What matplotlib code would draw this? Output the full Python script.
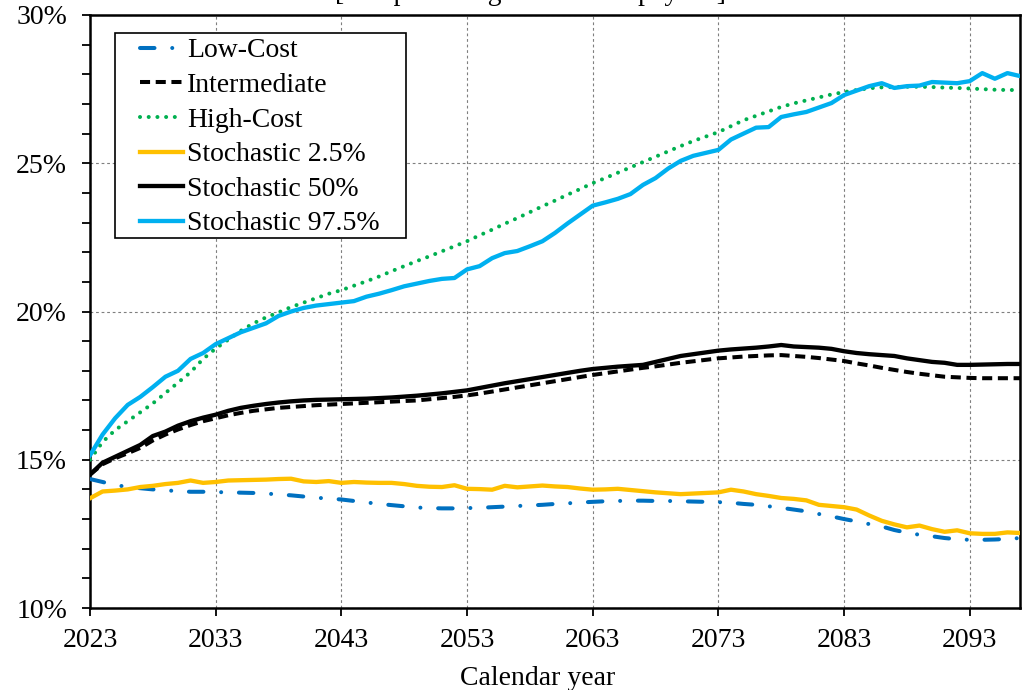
import numpy as np
import matplotlib
matplotlib.use("Agg")
import matplotlib.pyplot as plt
from matplotlib.patches import Rectangle
from matplotlib.ticker import MultipleLocator, FuncFormatter

# --------------------------------------------------------------------------- #
#  Data (percent of taxable payroll), calendar years 2023-2097
# --------------------------------------------------------------------------- #
years = np.arange(2023, 2098)

low_cost = [
    14.35, 14.25, 14.15, 14.08, 14.04, 14.00, 13.97, 13.94, 13.92, 13.92,
    13.91, 13.90, 13.89, 13.88, 13.86, 13.83, 13.80, 13.76, 13.72, 13.69,
    13.66, 13.61, 13.56, 13.51, 13.47, 13.43, 13.39, 13.37, 13.36, 13.36,
    13.37, 13.38, 13.40, 13.42, 13.44, 13.46, 13.48, 13.51, 13.53, 13.56,
    13.58, 13.60, 13.61, 13.62, 13.62, 13.61, 13.61, 13.60, 13.59, 13.58,
    13.57, 13.55, 13.51, 13.48, 13.43, 13.38, 13.32, 13.26, 13.17, 13.09,
    13.00, 12.92, 12.83, 12.75, 12.63, 12.54, 12.47, 12.42, 12.36, 12.32,
    12.30, 12.30, 12.31, 12.33, 12.36,
]

intermediate = [
    14.50, 14.85, 15.05, 15.22, 15.40, 15.65, 15.85, 16.02, 16.17, 16.30,
    16.40, 16.50, 16.58, 16.65, 16.70, 16.75, 16.78, 16.81, 16.84, 16.86,
    16.88, 16.90, 16.92, 16.94, 16.96, 16.98, 17.00, 17.04, 17.08, 17.12,
    17.17, 17.23, 17.30, 17.37, 17.44, 17.51, 17.58, 17.65, 17.72, 17.79,
    17.86, 17.92, 17.98, 18.04, 18.10, 18.15, 18.21, 18.27, 18.32, 18.37,
    18.42, 18.45, 18.48, 18.50, 18.52, 18.53, 18.50, 18.47, 18.43, 18.38,
    18.33, 18.25, 18.18, 18.10, 18.03, 17.96, 17.90, 17.85, 17.80, 17.78,
    17.76, 17.75, 17.75, 17.75, 17.75,
]

high_cost = [
    15.00, 15.60, 16.00, 16.30, 16.60, 16.90, 17.25, 17.60, 17.95, 18.40,
    18.75, 19.05, 19.35, 19.60, 19.80, 19.97, 20.15, 20.30, 20.45, 20.60,
    20.72, 20.87, 21.02, 21.18, 21.36, 21.53, 21.70, 21.86, 22.03, 22.20,
    22.37, 22.57, 22.76, 22.96, 23.15, 23.35, 23.55, 23.74, 23.94, 24.13,
    24.33, 24.50, 24.68, 24.86, 25.04, 25.22, 25.40, 25.58, 25.75, 25.90,
    26.05, 26.25, 26.45, 26.60, 26.75, 26.90, 27.02, 27.12, 27.22, 27.32,
    27.40, 27.47, 27.53, 27.56, 27.57, 27.58, 27.58, 27.57, 27.55, 27.54,
    27.52, 27.50, 27.48, 27.47, 27.47,
]

stoch_025 = [
    13.70, 13.93, 13.96, 14.00, 14.08, 14.12, 14.18, 14.22, 14.30, 14.22,
    14.25, 14.30, 14.31, 14.32, 14.33, 14.35, 14.36, 14.27, 14.25, 14.28,
    14.22, 14.25, 14.23, 14.22, 14.22, 14.18, 14.12, 14.09, 14.08, 14.14,
    14.02, 14.01, 13.99, 14.12, 14.07, 14.10, 14.13, 14.10, 14.08, 14.03,
    13.99, 14.00, 14.02, 13.98, 13.94, 13.90, 13.87, 13.84, 13.86, 13.88,
    13.90, 13.99, 13.93, 13.84, 13.78, 13.71, 13.68, 13.63, 13.48, 13.44,
    13.40, 13.32, 13.12, 12.94, 12.82, 12.72, 12.78, 12.66, 12.57, 12.62,
    12.52, 12.50, 12.50, 12.55, 12.53,
]

stoch_50 = [
    14.50, 14.90, 15.10, 15.30, 15.50, 15.80, 15.95, 16.15, 16.30, 16.42,
    16.52, 16.65, 16.75, 16.82, 16.88, 16.93, 16.97, 17.00, 17.02, 17.03,
    17.04, 17.05, 17.06, 17.08, 17.10, 17.13, 17.16, 17.20, 17.24, 17.29,
    17.34, 17.42, 17.50, 17.58, 17.65, 17.72, 17.79, 17.86, 17.93, 18.00,
    18.06, 18.10, 18.14, 18.17, 18.20, 18.30, 18.40, 18.50, 18.56, 18.62,
    18.68, 18.72, 18.75, 18.78, 18.82, 18.87, 18.82, 18.80, 18.78, 18.74,
    18.66, 18.60, 18.56, 18.53, 18.50, 18.42, 18.36, 18.30, 18.27, 18.20,
    18.20, 18.21, 18.22, 18.23, 18.23,
]

stoch_975 = [
    15.15, 15.85, 16.40, 16.85, 17.12, 17.45, 17.80, 18.00, 18.40, 18.60,
    18.90, 19.10, 19.30, 19.45, 19.60, 19.85, 20.00, 20.12, 20.20, 20.25,
    20.30, 20.35, 20.50, 20.60, 20.72, 20.85, 20.94, 21.03, 21.10, 21.13,
    21.42, 21.53, 21.80, 21.97, 22.04, 22.20, 22.37, 22.65, 22.97, 23.27,
    23.57, 23.68, 23.80, 23.96, 24.27, 24.50, 24.82, 25.08, 25.25, 25.35,
    25.45, 25.80, 26.00, 26.20, 26.22, 26.56, 26.65, 26.73, 26.88, 27.03,
    27.30, 27.45, 27.60, 27.70, 27.54, 27.60, 27.62, 27.74, 27.72, 27.70,
    27.77, 28.04, 27.85, 28.04, 27.94,
]

x_ticks = np.arange(2023, 2094, 10)

# --------------------------------------------------------------------------- #
#  Figure
# --------------------------------------------------------------------------- #
plt.rcParams["font.family"] = ["Liberation Serif", "DejaVu Serif"]
FS = 20
W, H = 1025, 690
AX_L, AX_R, AX_T, AX_B = 90, 1020, 15, 608       # axes box in pixels


def ax_frac(px, py):
    """pixel (from top-left) -> axes fraction"""
    return (px - AX_L) / (AX_R - AX_L), (AX_B - py) / (AX_B - AX_T)


fig = plt.figure(figsize=(W / 100, H / 100), dpi=100)
ax = fig.add_axes([AX_L / W, 1 - AX_B / H, (AX_R - AX_L) / W, (AX_B - AX_T) / H])

LW = 2.9
ax.plot(years, low_cost, color="#0070C0", lw=LW, dashes=(3.6, 4.4, 0.01, 4.4),
        dash_capstyle="round", label="Low-Cost", zorder=3)
ax.plot(years, intermediate, color="black", lw=LW, dashes=(2.5, 1.4),
        label="Intermediate", zorder=3)
ax.plot(years, high_cost, color="#00B050", lw=LW, dashes=(0.01, 2.15),
        dash_capstyle="round", label="High-Cost", zorder=3)
ax.plot(years, stoch_025, color="#FFC000", lw=LW + 0.2,
        label="Stochastic 2.5%", zorder=3)
ax.plot(years, stoch_50, color="black", lw=LW + 0.2,
        label="Stochastic 50%", zorder=3)
ax.plot(years, stoch_975, color="#00B0F0", lw=LW + 0.2,
        label="Stochastic 97.5%", zorder=3)

ax.set_xlim(2023, 2097)
ax.set_ylim(10, 30)
ax.set_xticks(x_ticks)
ax.yaxis.set_major_locator(MultipleLocator(5))
ax.yaxis.set_minor_locator(MultipleLocator(1))
ax.yaxis.set_major_formatter(FuncFormatter(lambda v, _: f"{v:.0f}%"))

ax.tick_params(axis="both", which="both", direction="out", length=5.5,
               width=1.3, labelsize=FS, colors="black")
ax.tick_params(axis="x", pad=9)
ax.tick_params(axis="y", pad=11)

ax.grid(True, which="major", color="#7f7f7f", lw=0.8, dashes=(2.5, 2.5))
for s in ax.spines.values():
    s.set_linewidth(1.8)
    s.set_color("black")

fig.text(538 / W, 1 - 685 / H, "Calendar year", ha="center", va="baseline",
         fontsize=FS)

# legend: entries without frame, frame drawn as its own box
leg = ax.legend(loc="upper left", bbox_to_anchor=ax_frac(140, 38),
                borderaxespad=0, borderpad=0, fontsize=FS, handlelength=1.55,
                handletextpad=0.15, labelspacing=0.33, frameon=False)
leg.set_zorder(6)
x0, y0 = ax_frac(115, 238)
x1, y1 = ax_frac(406, 33)
ax.add_patch(Rectangle((x0, y0), x1 - x0, y1 - y0, transform=ax.transAxes,
                       facecolor="white", edgecolor="black", lw=1.2, zorder=5))

# title line, clipped at the top edge of the picture
fig.text(530 / W, 1.0, "[as a percentage of taxable payroll]",
         ha="center", va="baseline", fontsize=FS)

fig.savefig("out.png", dpi=100)
